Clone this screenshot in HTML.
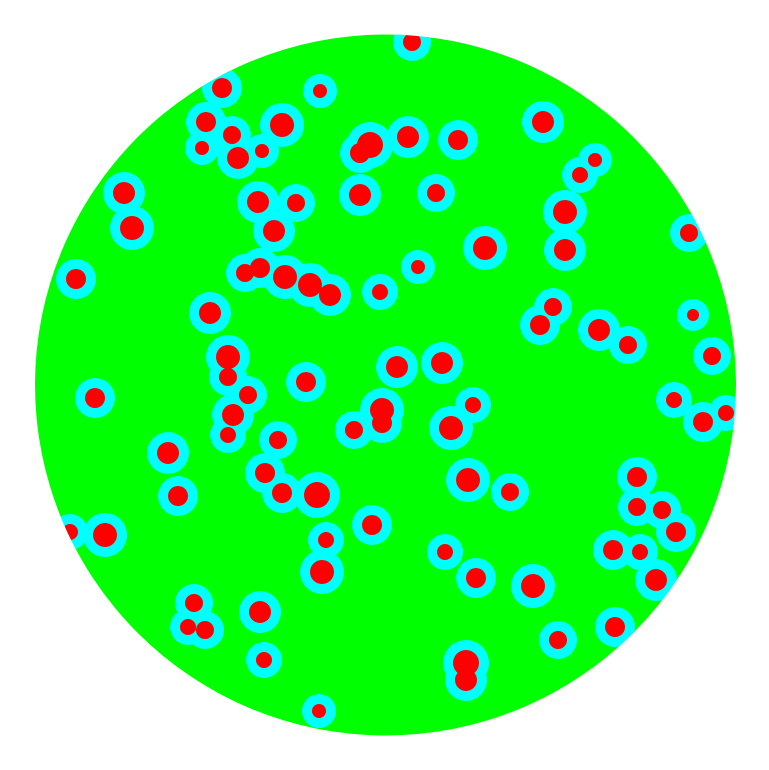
<!DOCTYPE html>
<html><head><meta charset="utf-8"><style>html,body{margin:0;padding:0;background:#fff}svg{display:block}</style></head>
<body>
<svg id="chart" width="769" height="770" viewBox="0 0 769 770" xmlns="http://www.w3.org/2000/svg">
<defs><clipPath id="disc"><circle cx="385.5" cy="385" r="350.5"/></clipPath></defs>
<circle cx="385.5" cy="385" r="350.5" fill="#00ff00"/>
<g id="halos" clip-path="url(#disc)"></g>
<g id="blobs" clip-path="url(#disc)"></g>
</svg>
<script>
const xs=[412,222,320,206,232,282,202,238,262,370,360,408,458,543,595,580,124,132,258,296,360,436,565,565,274,485,689,418,76,245,260,285,310,330,380,553,540,210,599,628,693,712,228,228,397,442,306,95,248,233,228,674,703,726,382,382,354,451,473,278,168,265,282,317,468,510,637,637,662,676,178,70,105,372,326,613,640,445,476,533,322,656,194,188,205,260,615,558,264,466,466,319];
const ys=[42,88,91,122,135,125,148,158,151,145,153,137,140,122,160,175,193,228,202,203,195,193,212,250,231,248,233,267,279,273,268,277,285,295,292,307,325,313,330,345,315,356,357,377,367,363,382,398,395,415,435,400,422,413,410,423,430,428,405,440,453,473,493,495,480,492,477,507,510,532,496,532,535,525,540,550,552,552,578,586,572,580,603,627,630,612,627,640,660,663,680,711];
const rs=[9,10,7,10,9,12,7,11,7,13,10,11,10,11,7,8,11,12,11,9,11,9,12,11,11,12,9,7,10,9,10,12,12,11,8,9,10,11,11,9,6,9,12,9,11,11,10,10,9,11,8,8,10,8,12,10,9,12,8,9,11,10,10,13,12,9,10,9,9,10,10,8,12,10,8,10,8,8,10,12,12,11,9,8,9,11,10,9,8,13,11,7];
const NS='http://www.w3.org/2000/svg';
const halos=document.getElementById('halos'), blobs=document.getElementById('blobs');
for(let i=0;i<xs.length;i++){
  const h=document.createElementNS(NS,'circle');
  h.setAttribute('cx',xs[i]);h.setAttribute('cy',ys[i]);h.setAttribute('r',rs[i]+10);h.setAttribute('fill','#00ffff');
  
  
  halos.appendChild(h);
  const b=document.createElementNS(NS,'circle');
  b.setAttribute('cx',xs[i]);b.setAttribute('cy',ys[i]);b.setAttribute('r',rs[i]);b.setAttribute('fill','#ff0000');
  
  
  blobs.appendChild(b);
}
</script>
</body></html>
